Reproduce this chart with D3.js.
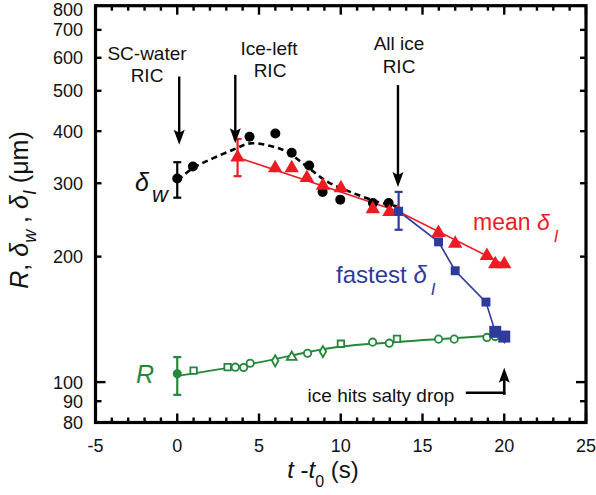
<!DOCTYPE html>
<html>
<head>
<meta charset="utf-8">
<script src="https://cdn.jsdelivr.net/npm/d3@7"></script>
<style>
  body { margin: 0; background: #fff; }
  text { font-family: "Liberation Sans", Arial, sans-serif; }
</style>
</head>
<body>
<svg id="chart"></svg>
<script>
const width = 596;
const height = 495;

// --- Data ---
// delta_w : black filled circles + dashed fit
const dwT   = [0, 0.96, 4.42, 6.0, 7.0, 8.07, 8.89, 9.97, 11.97, 12.93];
const dwVal = [308, 329, 388, 395, 355, 331, 286, 274, 269, 269];
const dwFitT   = [0.04, 0.96, 3.42, 4.46, 5.89, 6.71, 7.93, 9.16, 10.58, 12.21, 13.44];
const dwFitVal = [305, 326, 361, 374, 367, 357, 329, 303, 286, 271, 264];

// mean delta_I : red triangles + line
const meanT   = [3.69, 5.99, 7.0, 7.93, 8.91, 10.01, 11.96, 12.98, 13.5, 15.98, 17.0, 18.94, 19.45, 20.0];
const meanVal = [346, 326, 326, 309, 296, 292, 260, 256, 256, 228, 215, 201, 192, 192];
const meanLineT   = [3.69, 13.5, 20.17];
const meanLineVal = [346, 257, 190];

// fastest delta_I : blue squares + line
const fastT    = [13.54, 15.98, 17.0, 18.88, 19.45, 20.0];
const fastVal  = [257, 217, 185, 155.6, 132, 128.6];
const fastBig  = [false, false, false, false, true, true];
const fastLineT   = [13.54, 15.98, 17.0, 18.88, 19.45, 20.05];
const fastLineVal = [257, 217, 185, 155.6, 132, 124];

// R : green open symbols + line
const rT     = [1.0, 3.08, 3.55, 4.06, 4.46, 5.99, 7.0, 7.97, 8.91, 10.01, 11.95, 12.97, 13.44, 15.98, 16.94, 18.94, 19.45];
const rVal   = [106.6, 108.6, 108.6, 108.4, 111, 112.5, 114.8, 117.3, 118.4, 123.6, 124.7, 124, 127, 126.8, 126.8, 128, 128.6];
const rShape = ["square", "square", "circle", "circle", "circle", "diamond", "triangle", "circle", "diamond",
                "square", "circle", "circle", "square", "circle", "circle", "circle", "circle"];
const rFirst = [0, 104.7];
const rLineT   = [0, 4.5, 10, 13, 20];
const rLineVal = [103.5, 110.6, 121.7, 124.5, 129.8];

// error bars
const errT     = [0, 3.69, 13.54, 0];
const errLo    = [277, 312, 232, 93.2];
const errHi    = [337, 383, 286, 114.8];
const errColor = ["#000", "#ed1c24", "#2e3a9c", "#24883c"];

// axis ticks
const xMajor = [-5, 0, 5, 10, 15, 20, 25];
const xMinor = d3.range(-5, 26, 1);
const yTicks = [80, 90, 100, 200, 300, 400, 500, 600, 700, 800];

const red = "#ed1c24", blue = "#2e3a9c", green = "#24883c";

// --- Scales ---
const x = d3.scaleLinear().domain([-5, 25]).range([95.5, 586]);
const y = d3.scaleLog().domain([80, 800]).range([422.5, 5.7]);

const svg = d3.select("#chart")
  .attr("width", width)
  .attr("height", height);

// --- Frame & ticks ---
const gAxes = svg.append("g").attr("stroke", "#000").attr("stroke-width", 2.4);

xMinor.forEach(v => {
  const len = xMajor.includes(v) ? 9 : 5;
  gAxes.append("line").attr("x1", x(v)).attr("x2", x(v))
    .attr("y1", y(80)).attr("y2", y(80) - len);
  gAxes.append("line").attr("x1", x(v)).attr("x2", x(v))
    .attr("y1", y(800)).attr("y2", y(800) + len);
});
yTicks.forEach(v => {
  const len = v === 100 ? 10 : 6;
  gAxes.append("line").attr("x1", x(-5)).attr("x2", x(-5) + len)
    .attr("y1", y(v)).attr("y2", y(v));
  gAxes.append("line").attr("x1", x(25)).attr("x2", x(25) - len)
    .attr("y1", y(v)).attr("y2", y(v));
});

svg.append("rect")
  .attr("x", x(-5)).attr("y", y(800))
  .attr("width", x(25) - x(-5)).attr("height", y(80) - y(800))
  .attr("fill", "none").attr("stroke", "#000").attr("stroke-width", 3.2);

// tick labels
svg.append("g").selectAll("text").data(xMajor).join("text")
  .attr("x", d => x(d)).attr("y", 452)
  .attr("text-anchor", "middle").attr("font-size", 18).attr("fill", "#111")
  .text(d => d);

svg.append("g").selectAll("text").data(yTicks).join("text")
  .attr("x", 83).attr("y", d => Math.max(y(d), 10)).attr("dy", "0.36em")
  .attr("text-anchor", "end").attr("font-size", 18).attr("fill", "#111")
  .text(d => d);

// axis titles
const xt = svg.append("text")
  .attr("x", 323).attr("y", 478)
  .attr("text-anchor", "middle").attr("font-size", 24).attr("fill", "#111");
xt.append("tspan").attr("font-style", "italic").text("t");
xt.append("tspan").text(" -");
xt.append("tspan").attr("font-style", "italic").text("t");
xt.append("tspan").attr("font-size", 16).attr("dy", 9).text("0");
xt.append("tspan").attr("dy", -9).text(" (s)");

const yt = svg.append("text")
  .attr("transform", "translate(28,210) rotate(-90)")
  .attr("text-anchor", "middle").attr("font-size", 25).attr("fill", "#111");
yt.append("tspan").attr("font-style", "italic").text("R");
yt.append("tspan").text(", ");
yt.append("tspan").attr("font-style", "italic").text("δ");
yt.append("tspan").attr("font-style", "italic").attr("font-size", 18).attr("dy", 8).text("w");
yt.append("tspan").attr("dy", -8).text(" , ");
yt.append("tspan").attr("font-style", "italic").text("δ");
yt.append("tspan").attr("font-style", "italic").attr("font-size", 18).attr("dy", 8).text("I");
yt.append("tspan").attr("dy", -8).text(" (μm)");

// --- Lines ---
const line = d3.line().x(d => x(d[0])).y(d => y(d[1]));
const zip = (a, b) => a.map((v, i) => [v, b[i]]);

svg.append("path")
  .datum(zip(rLineT, rLineVal))
  .attr("d", line.curve(d3.curveMonotoneX))
  .attr("fill", "none").attr("stroke", green).attr("stroke-width", 2);

svg.append("path")
  .datum(zip(dwFitT, dwFitVal))
  .attr("d", line.curve(d3.curveCatmullRom))
  .attr("fill", "none").attr("stroke", "#000").attr("stroke-width", 2.6)
  .attr("stroke-dasharray", "6,4");

svg.append("path")
  .datum(zip(meanLineT, meanLineVal))
  .attr("d", line.curve(d3.curveLinear))
  .attr("fill", "none").attr("stroke", red).attr("stroke-width", 1.6);

svg.append("path")
  .datum(zip(fastLineT, fastLineVal))
  .attr("d", line.curve(d3.curveLinear))
  .attr("fill", "none").attr("stroke", blue).attr("stroke-width", 1.6);

// --- Error bars ---
errT.forEach((t, i) => {
  const g = svg.append("g").attr("stroke", errColor[i]).attr("stroke-width", 2.2);
  g.append("line").attr("x1", x(t)).attr("x2", x(t)).attr("y1", y(errLo[i])).attr("y2", y(errHi[i]));
  [errLo[i], errHi[i]].forEach(v => {
    g.append("line").attr("x1", x(t) - 4).attr("x2", x(t) + 4).attr("y1", y(v)).attr("y2", y(v));
  });
});

// --- Markers ---
const sym = {
  circle: d3.symbolCircle, square: d3.symbolSquare,
  diamond: d3.symbolDiamond, triangle: d3.symbolTriangle
};

svg.append("g").selectAll("path").data(rT).join("path")
  .attr("transform", (d, i) => `translate(${x(d)},${y(rVal[i])})`)
  .attr("d", (d, i) => d3.symbol(sym[rShape[i]], rShape[i] === "diamond" ? 36 : 42)())
  .attr("fill", "#fff").attr("stroke", green).attr("stroke-width", 1.8);

svg.append("circle")
  .attr("cx", x(rFirst[0])).attr("cy", y(rFirst[1])).attr("r", 4.5)
  .attr("fill", green);

svg.append("g").selectAll("circle").data(dwT).join("circle")
  .attr("cx", d => x(d)).attr("cy", (d, i) => y(dwVal[i])).attr("r", 5)
  .attr("fill", "#000");

svg.append("g").selectAll("path").data(meanT).join("path")
  .attr("transform", (d, i) => `translate(${x(d)},${y(meanVal[i])})`)
  .attr("d", d3.symbol(d3.symbolTriangle, 90)())
  .attr("fill", red);

svg.append("g").selectAll("path").data(fastT).join("path")
  .attr("transform", (d, i) => `translate(${x(d)},${y(fastVal[i])})`)
  .attr("d", (d, i) => d3.symbol(d3.symbolSquare, fastBig[i] ? 144 : 80)())
  .attr("fill", blue);

// --- Annotations ---
const arrowHead = (g, tx, ty, dir) => {
  // dir: 1 = pointing down, -1 = pointing up
  g.append("path")
    .attr("d", `M${tx},${ty} L${tx - 5.5},${ty - dir * 15} L${tx},${ty - dir * 12} L${tx + 5.5},${ty - dir * 15} Z`)
    .attr("fill", "#000");
};

const gAnn = svg.append("g");
const downArrows = [[0.12, 541, 371], [3.55, 546, 374], [13.5, 516, 294]];
downArrows.forEach(([t, top, tip]) => {
  gAnn.append("line").attr("x1", x(t)).attr("x2", x(t))
    .attr("y1", y(top)).attr("y2", y(tip) - 10)
    .attr("stroke", "#000").attr("stroke-width", 2.4);
  arrowHead(gAnn, x(t), y(tip), 1);
});

// ice hits salty drop arrow
gAnn.append("path")
  .attr("d", `M${x(17.65)},${y(94.3)} H${x(20)} V${y(108.2) + 10}`)
  .attr("fill", "none").attr("stroke", "#000").attr("stroke-width", 2.6);
gAnn.append("line")
  .attr("x1", x(20)).attr("x2", x(20)).attr("y1", y(94.3)).attr("y2", y(93.2))
  .attr("stroke", "#000").attr("stroke-width", 2.6);
arrowHead(gAnn, x(20), y(108.2), -1);

const label = (tx, ty, txt, size, color) =>
  svg.append("text").attr("x", tx).attr("y", ty)
    .attr("text-anchor", "middle").attr("font-size", size).attr("fill", color).text(txt);

label(147, 60, "SC-water", 19, "#111");
label(147, 82, "RIC", 19, "#111");
label(269, 55, "Ice-left", 19, "#111");
label(270, 77, "RIC", 19, "#111");
label(399, 50, "All ice", 19, "#111");
label(399, 73, "RIC", 19, "#111");

svg.append("text").attr("x", 381).attr("y", 402)
  .attr("text-anchor", "middle").attr("font-size", 19).attr("fill", "#111")
  .text("ice  hits salty drop");

// series labels
const dwLab = svg.append("text").attr("x", 135).attr("y", 191).attr("font-size", 25).attr("fill", "#111");
dwLab.append("tspan").attr("font-style", "italic").text("δ");
dwLab.append("tspan").attr("font-style", "italic").attr("font-size", 22).attr("dx", 3).attr("dy", 11).text("w");

const meanLab = svg.append("text").attr("x", 473).attr("y", 230).attr("font-size", 23).attr("fill", red);
meanLab.append("tspan").text("mean ");
meanLab.append("tspan").attr("font-style", "italic").text("δ");
meanLab.append("tspan").attr("font-style", "italic").attr("font-size", 17).attr("dx", 4).attr("dy", 12).text("I");

const fastLab = svg.append("text").attr("x", 336).attr("y", 283).attr("font-size", 24).attr("fill", blue);
fastLab.append("tspan").text("fastest ");
fastLab.append("tspan").attr("font-style", "italic").text("δ");
fastLab.append("tspan").attr("font-style", "italic").attr("font-size", 17).attr("dx", 4).attr("dy", 12).text("I");

svg.append("text").attr("x", 136).attr("y", 383)
  .attr("font-size", 25).attr("font-style", "italic").attr("fill", green).text("R");
</script>
</body>
</html>
